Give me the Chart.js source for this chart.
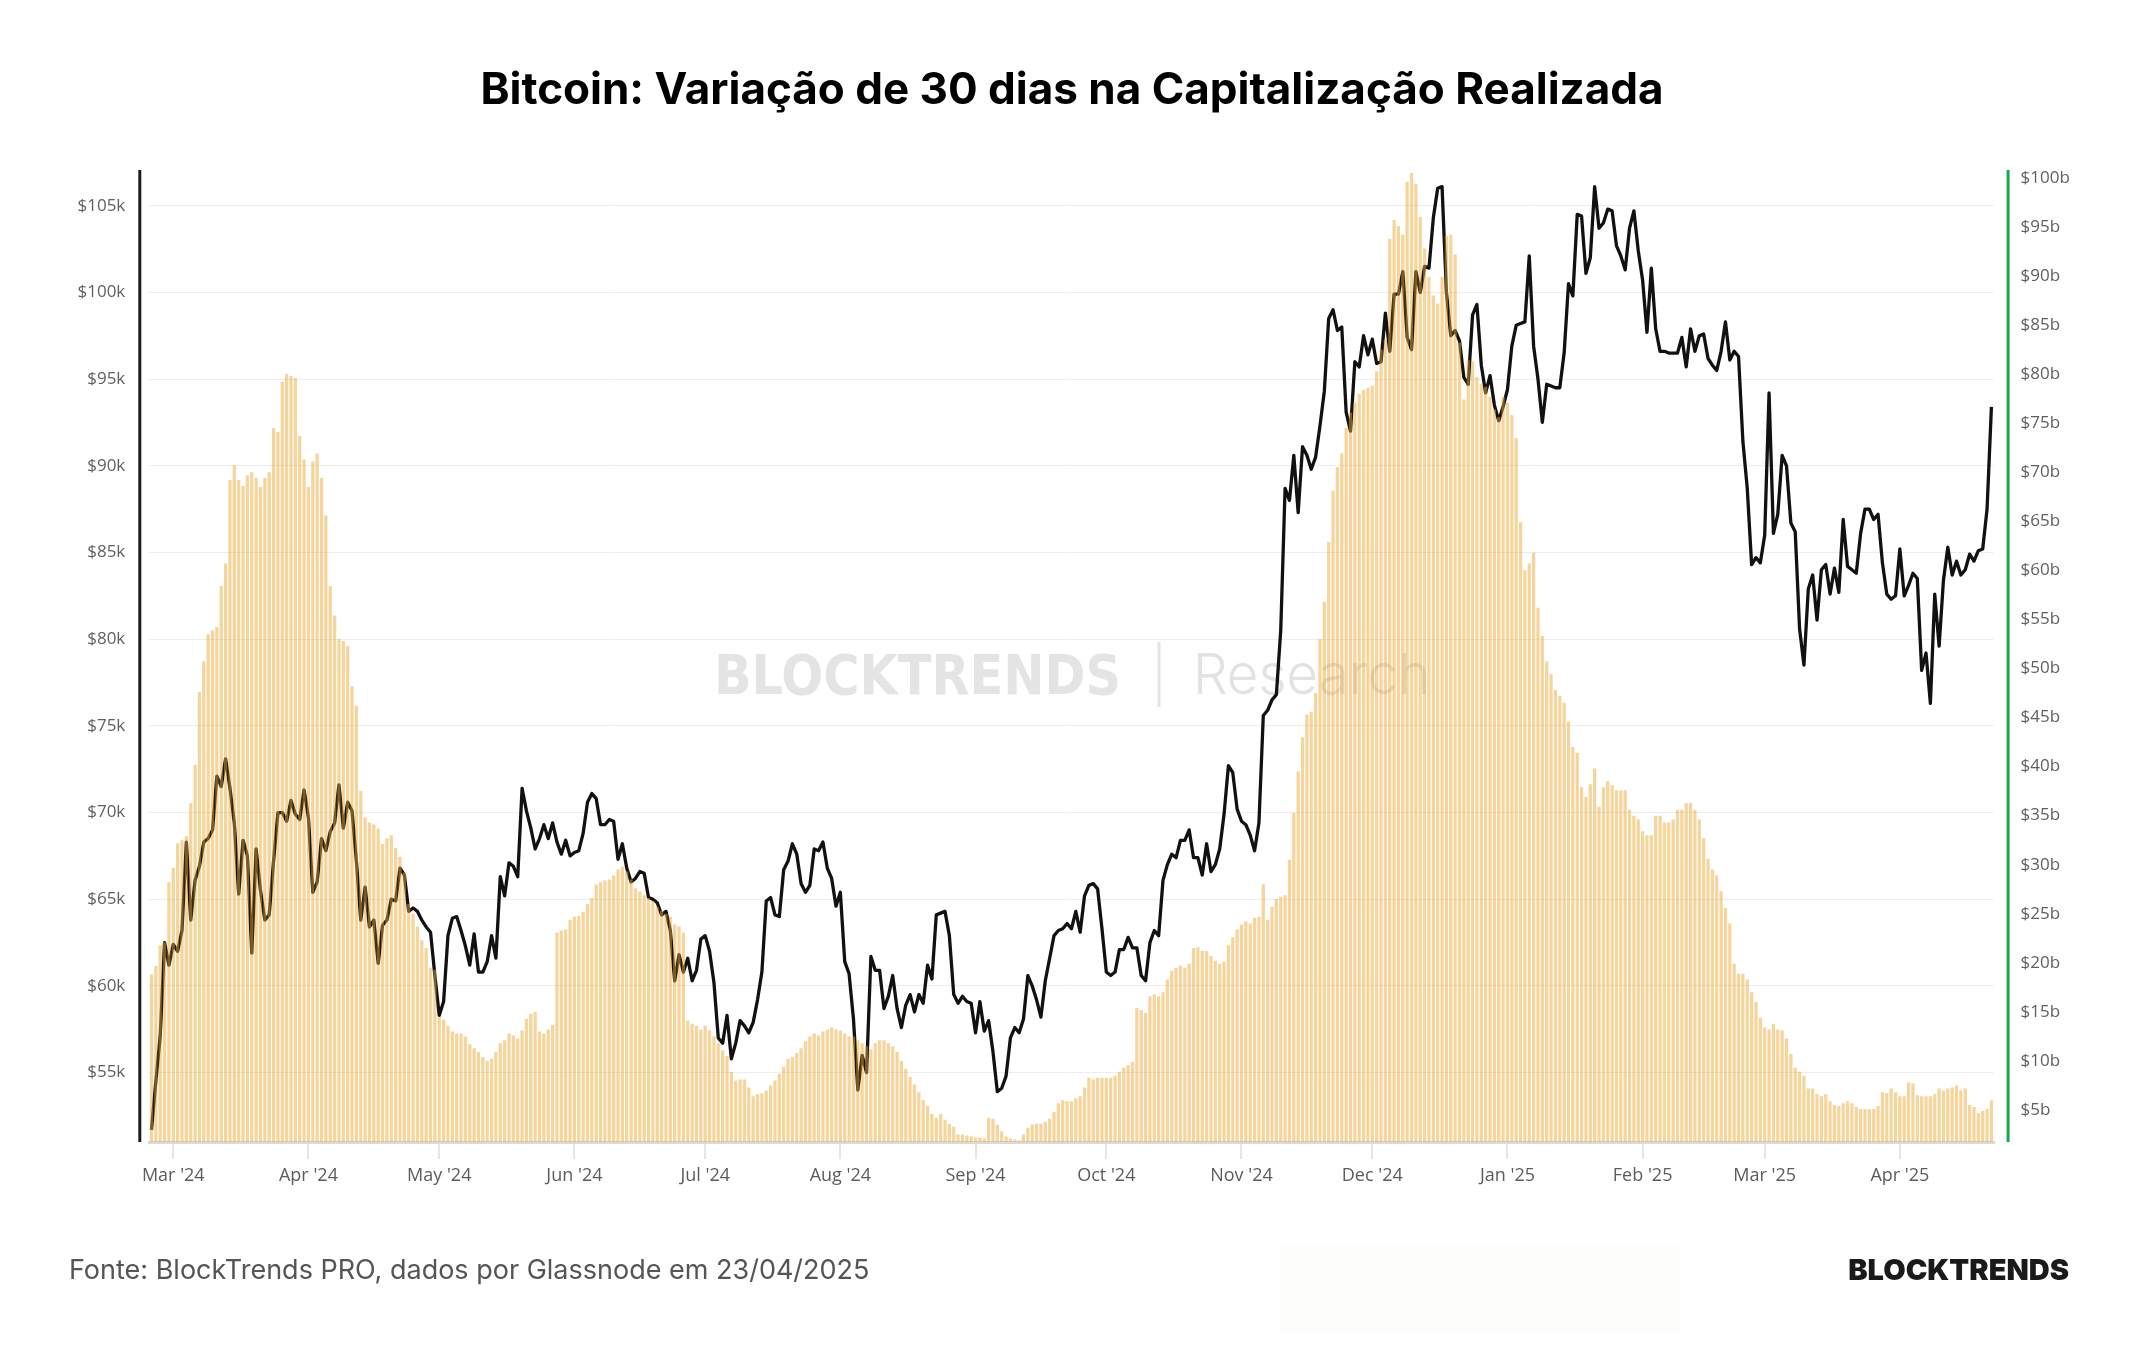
<!DOCTYPE html>
<html>
<head>
<meta charset="utf-8">
<script src="https://cdn.jsdelivr.net/npm/chart.js@4.4.1/dist/chart.umd.min.js"></script>
<style>
html,body{margin:0;padding:0;background:#fff;}
body{width:2144px;height:1350px;position:relative;overflow:hidden;}
#c{position:absolute;left:0;top:0;}
.title{position:absolute;left:0;width:2144px;top:66px;text-align:center;font:700 44px Inter,sans-serif;line-height:1;color:#000;}
.src{position:absolute;left:69px;top:1256px;font:400 27px Inter,sans-serif;line-height:1;color:#555;}
.logo{position:absolute;right:75px;top:1255px;font:900 29px Inter,sans-serif;line-height:1;color:#1a1a1a;}
.box{position:absolute;left:1280px;top:1246px;width:401px;height:88px;background:#fdfdfc;}
</style>
</head>
<body>
<div class="box"></div>
<canvas id="c" width="2144" height="1350"></canvas>
<div class="title">Bitcoin: Variação de 30 dias na Capitalização Realizada</div>
<div class="src">Fonte: BlockTrends PRO, dados por Glassnode em 23/04/2025</div>
<div class="logo">BLOCKTRENDS</div>
<script>
// ---- Data ----
const startDate = [2024, 1, 25]; // 25 Feb 2024 (daily series)

// BTC price, in $k (daily)
const priceK = [
  // Feb 25-29 2024
  51.7, 54.5, 57.1, 62.5, 61.2,
  // Mar 2024
  62.4, 62.0, 63.2, 68.3, 63.8, 66.1, 66.9, 68.3, 68.5, 69.0, 72.1, 71.5, 73.1, 71.4, 69.4, 65.3,
  68.4, 67.5, 61.9, 67.9, 65.5, 63.8, 64.1, 67.2, 70.0, 70.0, 69.5, 70.7, 69.9, 69.6, 71.3,
  // Apr 2024
  69.7, 65.4, 66.0, 68.5, 67.8, 68.9, 69.4, 71.6, 69.1, 70.6, 70.1, 67.2, 63.8, 65.7, 63.4,
  63.8, 61.3, 63.5, 63.8, 65.0, 64.9, 66.8, 66.4, 64.3, 64.5, 64.3, 63.8, 63.4, 63.1, 60.6,
  // May 2024
  58.3, 59.1, 62.9, 63.9, 64.0, 63.2, 62.3, 61.2, 63.0, 60.8, 60.8, 61.4, 62.9, 61.6, 66.3, 65.2,
  67.1, 66.9, 66.3, 71.4, 70.1, 69.1, 67.9, 68.5, 69.3, 68.5, 69.4, 68.3, 67.6, 68.4, 67.5,
  // Jun 2024
  67.7, 67.8, 68.8, 70.6, 71.1, 70.8, 69.3, 69.3, 69.6, 69.5, 67.3, 68.2, 66.8, 66.0, 66.2,
  66.6, 66.5, 65.1, 65.0, 64.8, 64.1, 64.3, 63.2, 60.3, 61.8, 60.8, 61.6, 60.3, 60.9, 62.7,
  // Jul 2024
  62.9, 62.0, 60.2, 57.0, 56.7, 58.3, 55.8, 56.7, 58.0, 57.7, 57.3, 57.9, 59.2, 60.8, 64.9, 65.1,
  64.1, 64.0, 66.7, 67.2, 68.2, 67.6, 65.9, 65.4, 65.8, 67.9, 67.8, 68.3, 66.8, 66.2, 64.6,
  // Aug 2024
  65.4, 61.4, 60.7, 58.1, 54.0, 56.0, 55.0, 61.7, 60.9, 60.9, 58.7, 59.4, 60.6, 58.7, 57.6, 58.9,
  59.5, 58.5, 59.5, 59.0, 61.2, 60.4, 64.1, 64.2, 64.3, 62.9, 59.5, 59.0, 59.4, 59.1, 59.0,
  // Sep 2024
  57.3, 59.1, 57.4, 58.0, 56.2, 53.9, 54.1, 54.8, 57.0, 57.6, 57.3, 58.1, 60.6, 60.0, 59.2,
  58.2, 60.3, 61.6, 62.9, 63.2, 63.3, 63.6, 63.3, 64.3, 63.1, 65.2, 65.8, 65.9, 65.6, 63.3,
  // Oct 2024
  60.8, 60.6, 60.8, 62.1, 62.1, 62.8, 62.2, 62.2, 60.6, 60.3, 62.5, 63.2, 62.9, 66.1, 67.0, 67.6,
  67.4, 68.4, 68.4, 69.0, 67.4, 67.4, 66.4, 68.2, 66.6, 67.0, 67.9, 69.9, 72.7, 72.3, 70.2,
  // Nov 2024
  69.5, 69.3, 68.7, 67.8, 69.4, 75.6, 75.9, 76.5, 76.8, 80.5, 88.7, 88.0, 90.6, 87.3, 91.1,
  90.6, 89.8, 90.5, 92.3, 94.3, 98.5, 99.0, 97.8, 98.0, 93.1, 92.0, 96.0, 95.7, 97.5, 96.4,
  // Dec 2024
  97.3, 95.9, 96.0, 98.8, 96.6, 99.9, 99.9, 101.2, 97.4, 96.7, 101.2, 100.0, 101.5, 101.4, 104.3, 106.0,
  106.1, 100.0, 97.5, 97.8, 97.2, 95.1, 94.7, 98.7, 99.3, 95.8, 94.2, 95.2, 93.5, 92.6, 93.4,
  // Jan 2025
  94.4, 96.9, 98.1, 98.2, 98.3, 102.1, 96.9, 95.0, 92.5, 94.7, 94.6, 94.5, 94.5, 96.5, 100.5, 99.8,
  104.5, 104.4, 101.1, 102.0, 106.1, 103.7, 104.0, 104.8, 104.7, 102.7, 102.1, 101.3, 103.7, 104.7, 102.4,
  // Feb 2025
  100.7, 97.7, 101.4, 97.9, 96.6, 96.6, 96.5, 96.5, 96.5, 97.4, 95.7, 97.9, 96.6, 97.5,
  97.6, 96.2, 95.8, 95.5, 96.6, 98.3, 96.1, 96.6, 96.3, 91.4, 88.7, 84.3, 84.7, 84.4,
  // Mar 2025
  86.0, 94.2, 86.1, 87.2, 90.6, 90.0, 86.7, 86.2, 80.6, 78.5, 82.9, 83.7, 81.1, 84.0, 84.3, 82.6,
  84.1, 82.7, 86.9, 84.2, 84.0, 83.8, 86.1, 87.5, 87.5, 86.9, 87.2, 84.4, 82.6, 82.3, 82.5,
  // Apr 2025 (1-22)
  85.2, 82.5, 83.1, 83.8, 83.5, 78.2, 79.2, 76.3, 82.6, 79.6, 83.4, 85.3, 83.7, 84.5, 83.7,
  84.0, 84.9, 84.5, 85.1, 85.2, 87.5, 93.4
];

// 30-day change in Realized Cap, in $b (daily)
const realizedCapChangeB = [
  // Feb 25-29 2024
  18.8, 19.7, 21.8, 22.1, 28.2,
  // Mar 2024
  29.7, 32.2, 32.5, 32.9, 36.3, 40.2, 47.6, 50.7, 53.5, 53.9, 54.2, 58.4, 60.7, 69.2, 70.7, 69.2,
  68.6, 69.7, 70.0, 69.4, 68.5, 69.4, 70.0, 74.5, 74.1, 79.2, 80.0, 79.8, 79.6, 73.7, 71.3,
  // Apr 2024
  68.5, 71.1, 71.9, 69.4, 65.6, 58.4, 55.4, 53.0, 52.8, 52.3, 48.2, 46.2, 37.5, 34.8, 34.3,
  34.1, 33.7, 32.1, 32.7, 33.0, 31.7, 30.8, 29.2, 26.0, 25.0, 23.7, 22.3, 21.5, 19.5, 19.3,
  // May 2024
  14.5, 14.2, 13.6, 13.0, 12.8, 12.8, 12.5, 11.7, 11.3, 10.9, 10.4, 10.0, 10.2, 10.9, 11.8, 12.1,
  12.8, 12.6, 12.3, 13.1, 14.3, 14.8, 15.0, 13.0, 12.8, 13.2, 13.7, 23.1, 23.3, 23.4, 24.4,
  // Jun 2024
  24.7, 24.8, 25.2, 26.0, 26.6, 28.0, 28.2, 28.4, 28.5, 28.9, 29.5, 29.8, 29.3, 28.5, 27.6,
  27.3, 26.9, 26.6, 26.3, 25.7, 25.3, 25.0, 24.7, 23.9, 23.7, 23.1, 14.1, 13.8, 13.6, 13.2,
  // Jul 2024
  13.6, 13.1, 12.5, 11.8, 11.1, 10.5, 8.9, 8.0, 8.1, 8.1, 7.3, 6.4, 6.6, 6.7, 7.0, 7.5,
  8.0, 8.7, 9.4, 10.2, 10.4, 10.8, 11.3, 12.0, 12.5, 12.8, 12.6, 13.0, 13.2, 13.4, 13.2,
  // Aug 2024
  13.1, 12.8, 12.5, 12.5, 12.1, 11.8, 11.5, 11.2, 11.8, 12.1, 12.1, 11.8, 11.5, 10.9, 10.0, 9.2,
  8.4, 7.6, 6.8, 6.0, 5.4, 4.6, 4.2, 4.6, 4.0, 3.6, 3.3, 2.5, 2.5, 2.4, 2.3,
  // Sep 2024
  2.2, 2.2, 2.1, 4.2, 4.1, 3.5, 2.8, 2.3, 2.1, 2.0, 1.9, 2.5, 3.2, 3.5, 3.6,
  3.6, 3.8, 4.1, 4.8, 5.7, 6.0, 5.9, 5.9, 6.2, 6.4, 7.3, 8.3, 8.1, 8.3, 8.3,
  // Oct 2024
  8.3, 8.3, 8.5, 8.9, 9.3, 9.6, 9.9, 15.4, 15.2, 14.9, 16.6, 16.8, 16.6, 17.0, 18.3, 19.2,
  19.5, 19.7, 19.5, 19.9, 21.5, 21.6, 21.2, 21.2, 20.7, 20.2, 19.9, 20.1, 21.8, 22.6, 23.4,
  // Nov 2024
  23.9, 24.2, 24.0, 24.6, 24.7, 28.0, 24.4, 25.7, 26.5, 26.7, 26.9, 30.5, 35.3, 39.5, 43.0,
  45.3, 45.6, 47.5, 53.0, 56.8, 62.9, 68.1, 70.5, 71.9, 74.5, 76.1, 77.1, 78.0, 78.4, 78.6,
  // Dec 2024
  78.8, 80.3, 82.5, 83.5, 93.8, 95.7, 95.1, 94.2, 99.6, 100.5, 99.4, 96.0, 92.8, 89.9, 88.0, 87.2,
  89.9, 94.1, 94.2, 92.2, 83.2, 77.4, 81.4, 81.3, 79.7, 79.0, 78.7, 77.7, 76.4, 75.6, 77.7,
  // Jan 2025
  77.1, 75.8, 73.5, 64.9, 60.0, 60.7, 61.8, 56.2, 53.3, 50.7, 49.4, 47.8, 47.2, 46.5, 44.6, 42.0,
  41.4, 37.9, 36.9, 38.2, 39.8, 35.9, 37.9, 38.5, 38.1, 37.6, 37.6, 37.6, 35.6, 35.0, 34.6,
  // Feb 2025
  33.4, 33.0, 33.0, 35.0, 35.0, 34.3, 34.3, 34.6, 35.6, 35.6, 36.3, 36.3, 35.6, 34.6,
  32.7, 30.6, 29.5, 28.9, 27.3, 25.6, 24.0, 19.9, 18.9, 18.9, 18.3, 17.0, 16.0, 14.4,
  // Mar 2025
  13.4, 13.2, 13.8, 13.2, 13.1, 12.3, 10.7, 9.3, 8.9, 8.5, 7.2, 7.2, 6.6, 6.4, 6.6, 5.9,
  5.5, 5.4, 5.7, 5.9, 5.7, 5.3, 5.1, 5.1, 5.1, 5.1, 5.4, 6.8, 6.7, 7.2, 6.8,
  // Apr 2025 (1-22)
  6.4, 6.4, 7.8, 7.7, 6.5, 6.4, 6.4, 6.4, 6.6, 7.2, 7.0, 7.2, 7.3, 7.5, 7.0,
  7.2, 5.5, 5.3, 4.7, 4.9, 5.1, 6.0
];

const priceTicksK = [55, 60, 65, 70, 75, 80, 85, 90, 95, 100, 105];
const capTicksB = [5, 10, 15, 20, 25, 30, 35, 40, 45, 50, 55, 60, 65, 70, 75, 80, 85, 90, 95, 100];
const monthTickLabels = ["Mar '24", "Apr '24", "May '24", "Jun '24", "Jul '24", "Aug '24", "Sep '24",
  "Oct '24", "Nov '24", "Dec '24", "Jan '25", "Feb '25", "Mar '25", "Apr '25"];

// ---- Categories (one per day) ----
const dayLabels = [];
const monthStartIdx = [];
for (let i = 0; i < priceK.length; i++) {
  const d = new Date(Date.UTC(startDate[0], startDate[1], startDate[2] + i));
  dayLabels.push(d.toISOString().slice(0, 10));
  if (d.getUTCDate() === 1) monthStartIdx.push(i);
}

Chart.defaults.font.family = "'Open Sans', sans-serif";

const decor = {
  id: 'decor',
  beforeDatasetsDraw(chart) {
    const ctx = chart.ctx;
    // watermark
    ctx.save();
    ctx.fillStyle = '#e4e4e4';
    ctx.font = 'bold 56px "DejaVu Sans"';
    ctx.textBaseline = 'alphabetic';
    let w = ctx.measureText('BLOCKTRENDS').width;
    ctx.translate(714, 694);
    ctx.scale(407 / w, 1);
    ctx.fillText('BLOCKTRENDS', 0, 0);
    ctx.restore();

    ctx.save();
    ctx.strokeStyle = '#e4e4e4';
    ctx.lineWidth = 3;
    ctx.beginPath();
    ctx.moveTo(1159, 642);
    ctx.lineTo(1159, 707);
    ctx.stroke();
    ctx.restore();

    ctx.save();
    ctx.fillStyle = '#e2e2e2';
    ctx.font = '300 56px Inter';
    w = ctx.measureText('Research').width;
    ctx.translate(1193, 694);
    ctx.scale(237 / w, 1);
    ctx.fillText('Research', 0, 0);
    ctx.restore();
  },
  afterDraw(chart) {
    const ctx = chart.ctx;
    const a = chart.chartArea;
    ctx.save();
    ctx.lineWidth = 3;
    ctx.strokeStyle = '#1c1c1c';
    ctx.beginPath();
    ctx.moveTo(a.left - 9.5, a.top - 1);
    ctx.lineTo(a.left - 9.5, a.bottom);
    ctx.stroke();
    ctx.strokeStyle = '#1fa84a';
    ctx.beginPath();
    ctx.moveTo(a.right + 14.5, a.top - 1);
    ctx.lineTo(a.right + 14.5, a.bottom);
    ctx.stroke();
    ctx.restore();
  }
};

new Chart(document.getElementById('c'), {
  type: 'bar',
  data: {
    labels: dayLabels,
    datasets: [
      {
        type: 'bar',
        label: 'Variação 30d Cap. Realizada',
        data: realizedCapChangeB,
        yAxisID: 'y1',
        backgroundColor: 'rgba(235,170,52,0.49)',
        borderWidth: 0,
        barPercentage: 0.75,
        categoryPercentage: 1.0,
        order: 0
      },
      {
        type: 'line',
        label: 'Preço BTC',
        data: priceK,
        yAxisID: 'y',
        borderColor: '#111111',
        borderWidth: 3.3,
        pointRadius: 0,
        tension: 0,
        borderJoinStyle: 'round',
        order: 1
      }
    ]
  },
  options: {
    responsive: false,
    animation: false,
    devicePixelRatio: 1,
    events: [],
    layout: { padding: { top: 171, left: 0, right: 0, bottom: 0 } },
    plugins: { legend: { display: false }, tooltip: { enabled: false } },
    scales: {
      x: {
        type: 'category',
        offset: true,
        grid: { offset: false, drawOnChartArea: false, drawTicks: true, tickLength: 17, color: '#e6e6e6', lineWidth: 2 },
        border: { display: true, color: '#dadada', width: 3 },
        ticks: {
          autoSkip: false, maxRotation: 0, minRotation: 0, padding: 6, color: '#5c5c5c',
          font: { size: 18 },
          callback: (v) => monthTickLabels[monthStartIdx.indexOf(v)] || ''
        },
        afterBuildTicks: (s) => { s.ticks = monthStartIdx.map(v => ({ value: v })); },
        afterFit: (s) => { s.height = 208; }
      },
      y: {
        position: 'left',
        min: 51, max: 107,
        grid: { color: '#ededed', lineWidth: 1, drawTicks: false },
        border: { display: false },
        ticks: { padding: 24, color: '#606060', font: { size: 17 }, callback: (v) => '$' + v + 'k' },
        afterBuildTicks: (s) => { s.ticks = priceTicksK.map(v => ({ value: v })); },
        afterFit: (s) => { s.width = 149.3; }
      },
      y1: {
        position: 'right',
        min: 1.74, max: 100.7,
        grid: { drawOnChartArea: false, drawTicks: false },
        border: { display: false },
        ticks: { padding: 27, color: '#606060', font: { size: 17 }, callback: (v) => '$' + v + 'b' },
        afterBuildTicks: (s) => { s.ticks = capTicksB.map(v => ({ value: v })); },
        afterFit: (s) => { s.width = 150.4; }
      }
    }
  },
  plugins: [decor]
});
</script>
</body>
</html>
